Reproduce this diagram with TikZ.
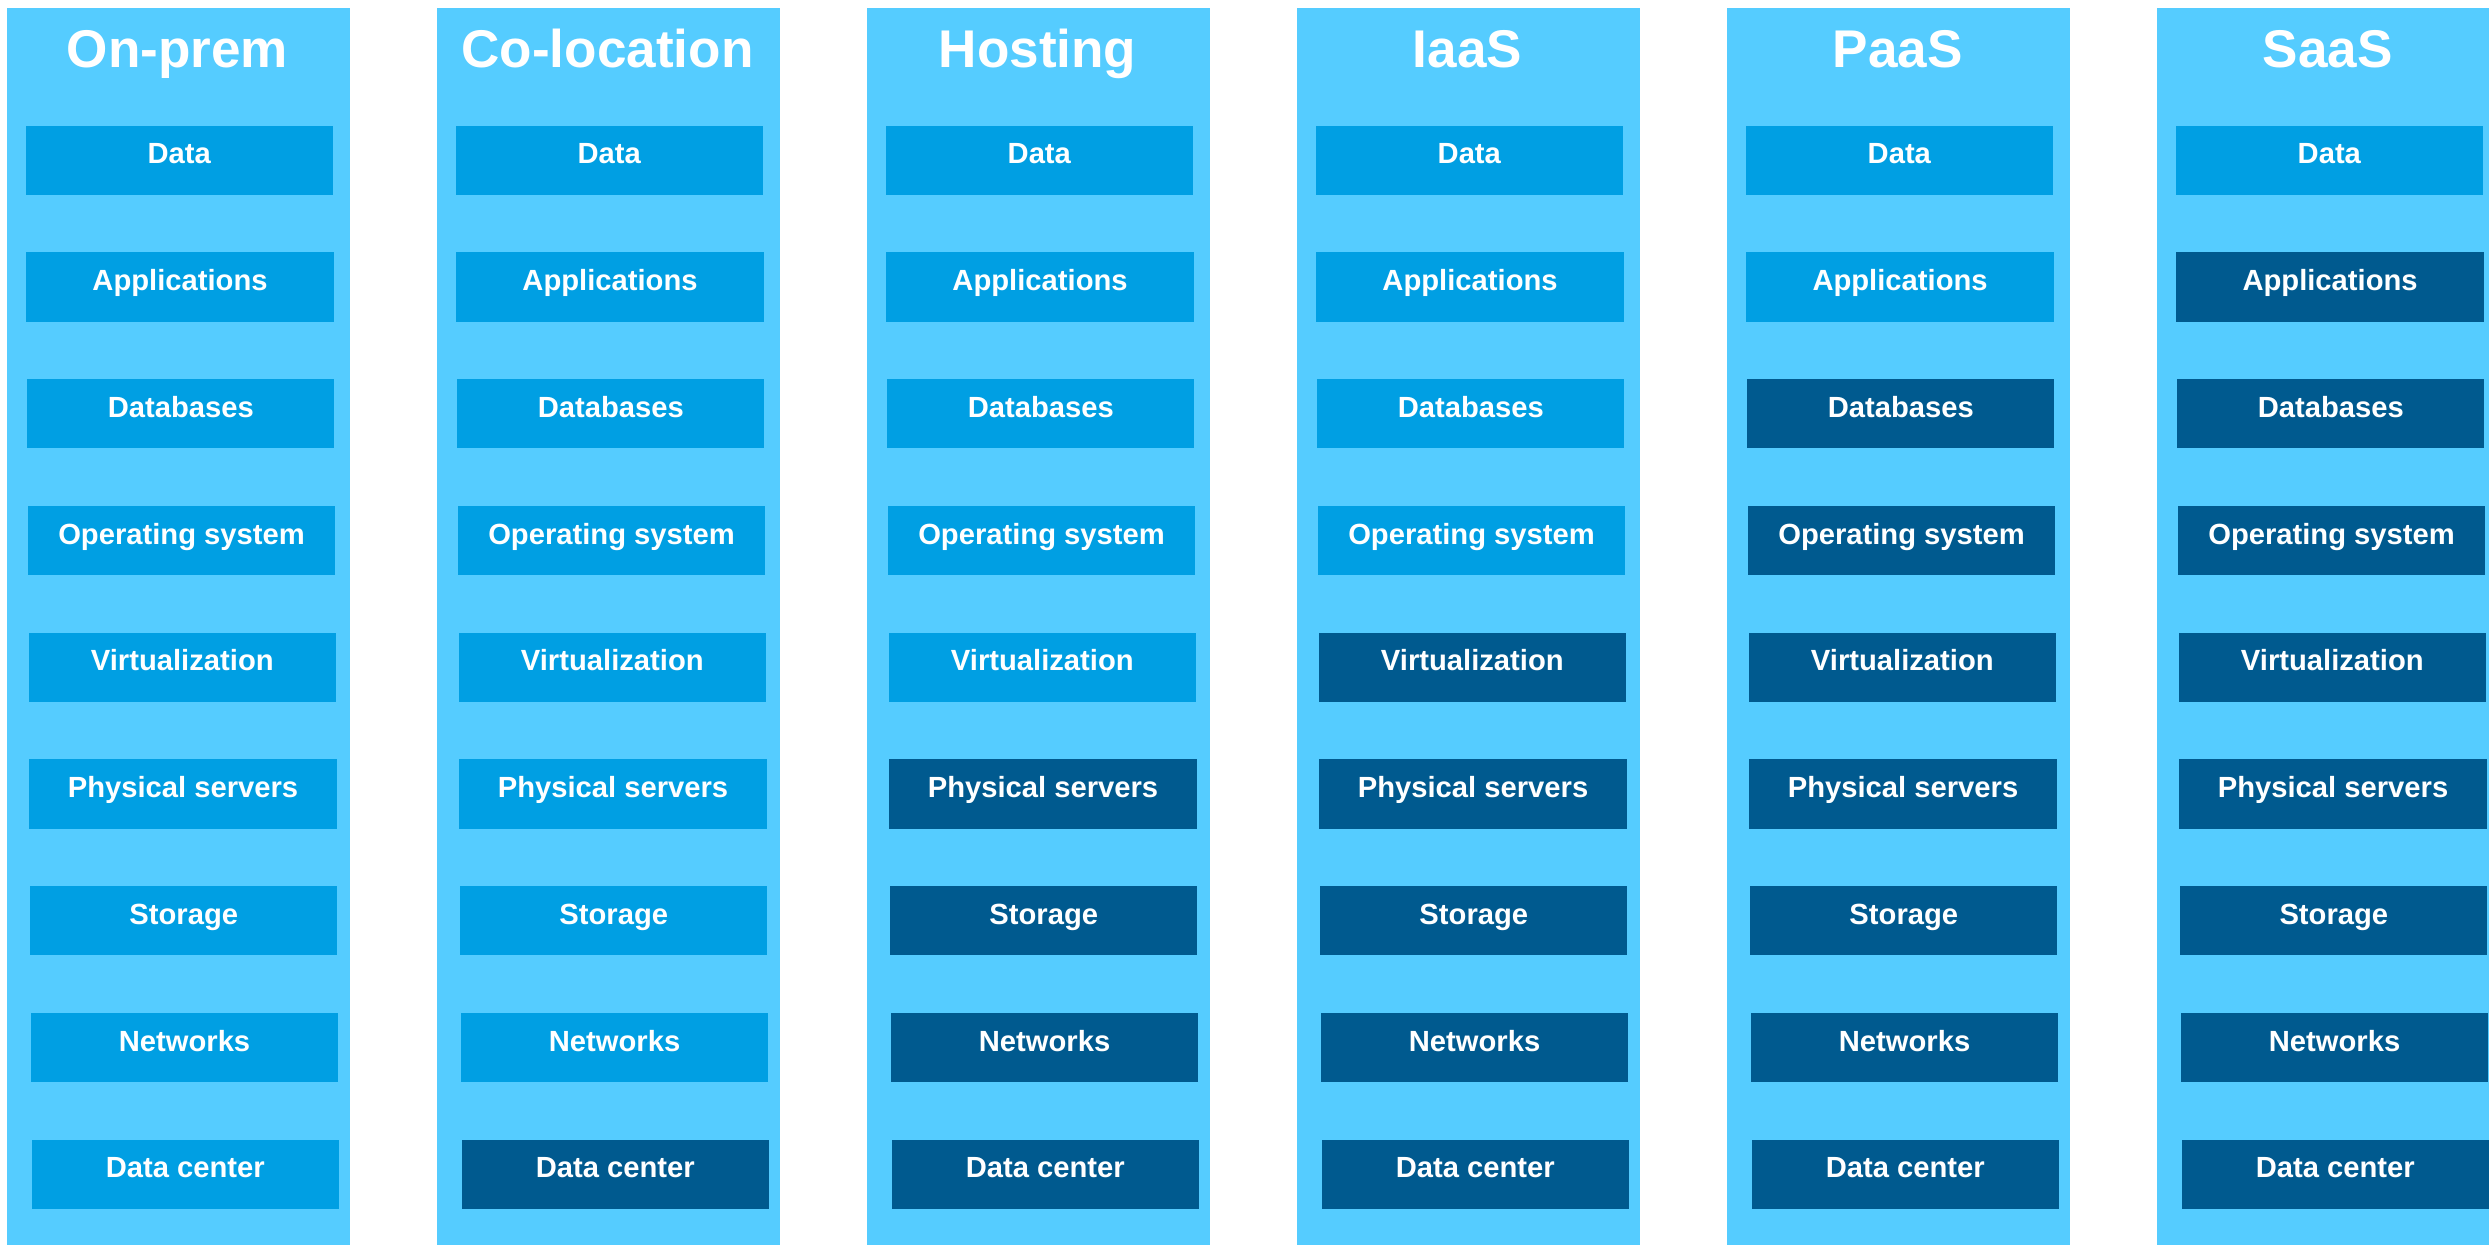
\documentclass[tikz,border=0pt]{standalone}
\usepackage{fontspec}
\setmainfont{Liberation Sans}
\usepackage{tikz}
\usetikzlibrary{positioning}

\definecolor{skyblue}{HTML}{55CCFF}
\definecolor{midblue}{HTML}{009FE3}
\definecolor{darkblue}{HTML}{005A8F}

\begin{document}
\begin{tikzpicture}[x=0.01cm,y=-0.01cm,
                    column/.style={fill=skyblue,minimum width=3.43cm,minimum height=12.37cm,
                                   anchor=north west,inner sep=0pt},
                    title/.style={text=white,inner sep=0pt,text height=0.38cm,text depth=0cm,
                                  font=\fontsize{15.1pt}{18pt}\selectfont\bfseries},
                    layer/.style={text=white,minimum width=3.07cm,minimum height=0.69cm,
                                  anchor=north west,inner sep=0pt,text height=0.21cm,text depth=0.14cm,
                                  font=\fontsize{8.3pt}{10pt}\selectfont\bfseries}]
  \useasboundingbox (0,0) rectangle (2489,1244);

  \foreach \c/\name/\n in {0/On-prem/9, 1/Co-location/8, 2/Hosting/5,
                           3/IaaS/4, 4/PaaS/2, 5/SaaS/1} {
    \node[column] (col\c) at (6+430*\c,7) {};
    \node[title] (head\c) at (177.5+430*\c,48) {\name};
    \foreach \r/\lbl in {0/Data, 1/Applications, 2/Databases, 3/Operating system,
                         4/Virtualization, 5/Physical servers, 6/Storage,
                         7/Networks, 8/Data center} {
      \ifnum\r<\n \def\boxcol{midblue}\else \def\boxcol{darkblue}\fi
      \node[layer,fill=\boxcol] (box\c-\r) at (25+430*\c+0.75*\r,125+126.75*\r) {\lbl};
    }
  }
\end{tikzpicture}
\end{document}
